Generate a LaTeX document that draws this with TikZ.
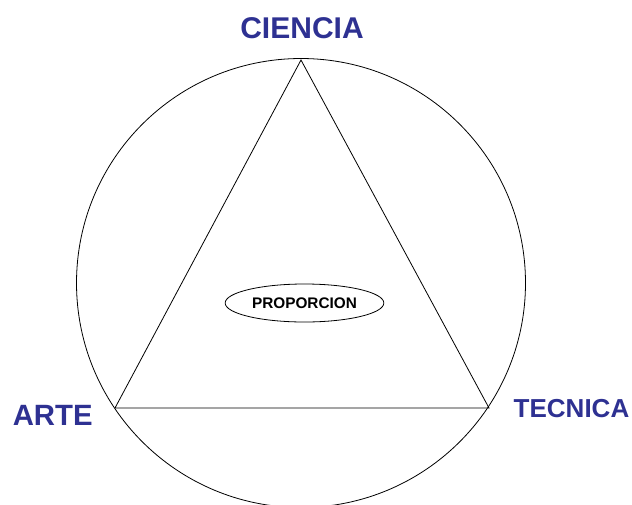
\documentclass[tikz,border=0pt]{standalone}
\usepackage{fontspec}
\setmainfont{Liberation Sans}
\usetikzlibrary{shapes.geometric}
\definecolor{titulo}{HTML}{2E3192}

\begin{document}
\begin{tikzpicture}[x=0.75pt, y=-0.75pt, linea/.style={draw=black, line width=0.6pt}, etiqueta/.style={anchor=base, text=titulo, font=\fontsize{#1}{24}\selectfont\bfseries, inner sep=0pt}]
			\useasboundingbox (0,0) rectangle (632,504);
			\coordinate (o) at (301,283);
			\coordinate (c) at (301,60);
			\coordinate (a) at (115,408);
			\coordinate (t) at (489,408);
			
			\path[linea] (o) circle [radius=224.5];
			\path[linea] (c) -- (a) -- (t) -- cycle;
			
			\node[etiqueta=22.5] (ciencia) at (302,38.3){CIENCIA};
			\node[etiqueta=22] (arte) at (52.7,425.7){ARTE};
			\node[etiqueta=19.5] (tecnica) at (571.5,417.3){TECNICA};
			\node[ellipse, linea, minimum width=119pt, minimum height=28.5pt, inner sep=0pt, font=\fontsize{11.5}{13}\selectfont\bfseries] (p) at (304.5,303){PROPORCION};
			\end{tikzpicture}
\end{document}
